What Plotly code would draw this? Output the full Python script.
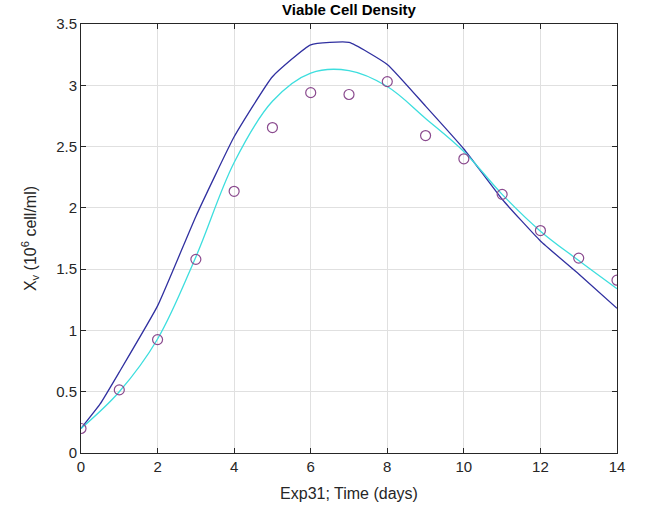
import plotly.graph_objects as go

days = list(range(0, 15))
measured = [0.20, 0.515, 0.925, 1.58, 2.135, 2.655, 2.94, 2.925, 3.03, 2.59, 2.40, 2.11, 1.815, 1.59, 1.41]

model1_t = [0, 0.5, 1, 2, 3, 4, 5, 6, 7, 8, 9, 10, 11, 12, 13, 14]
model1 = [0.20, 0.40, 0.66, 1.20, 1.93, 2.58, 3.07, 3.33, 3.35, 3.17, 2.83, 2.48, 2.07, 1.73, 1.46, 1.18]

model2_t = list(range(0, 15))
model2 = [0.20, 0.50, 0.93, 1.60, 2.37, 2.87, 3.10, 3.12, 2.99, 2.73, 2.46, 2.11, 1.81, 1.57, 1.34]

xticks = [0, 2, 4, 6, 8, 10, 12, 14]
yticks = [0, 0.5, 1, 1.5, 2, 2.5, 3, 3.5]

FONT = "Arial, Liberation Sans, Helvetica, sans-serif"

fig = go.Figure()
fig.add_trace(go.Scatter(x=model1_t, y=model1, mode="lines",
                         line=dict(color="#3030a0", width=1.3, shape="spline", smoothing=0.4),
                         showlegend=False))
fig.add_trace(go.Scatter(x=model2_t, y=model2, mode="lines",
                         line=dict(color="#3ddede", width=1.3, shape="spline", smoothing=1.0),
                         showlegend=False))
fig.add_trace(go.Scatter(x=days, y=measured, mode="markers",
                         marker=dict(symbol="circle-open", size=10, color="#8a4a8e",
                                     line=dict(width=1.2, color="#8a4a8e")),
                         showlegend=False))

axis_common = dict(showline=True, linecolor="#262626", linewidth=1, mirror="ticks",
                   ticks="inside", ticklen=5, tickcolor="#262626",
                   showgrid=True, gridcolor="#e0e0e0", gridwidth=1, zeroline=False,
                   tickfont=dict(family=FONT, size=15, color="#262626"))

fig.update_layout(
    width=646, height=515,
    margin=dict(l=81, r=29, t=24, b=62),
    paper_bgcolor="white", plot_bgcolor="white",
    title=dict(text="<b>Viable Cell Density</b>", x=0.5, xref="paper", xanchor="center",
               y=0.981, yanchor="middle",
               font=dict(family=FONT, size=15, color="black")),
    xaxis=dict(range=[0, 14], tickvals=xticks,
               title=dict(text="Exp31; Time (days)", standoff=13,
                          font=dict(family=FONT, size=16, color="#262626")),
               **axis_common),
    yaxis=dict(range=[0, 3.5], tickvals=yticks,
               title=dict(text="X<sub>v</sub> (10<sup>6</sup> cell/ml)", standoff=15,
                          font=dict(family=FONT, size=16, color="#262626")),
               **axis_common),
)

fig.write_html("out.html", config={"displayModeBar": False},
               post_script="document.body.style.margin='0';")
